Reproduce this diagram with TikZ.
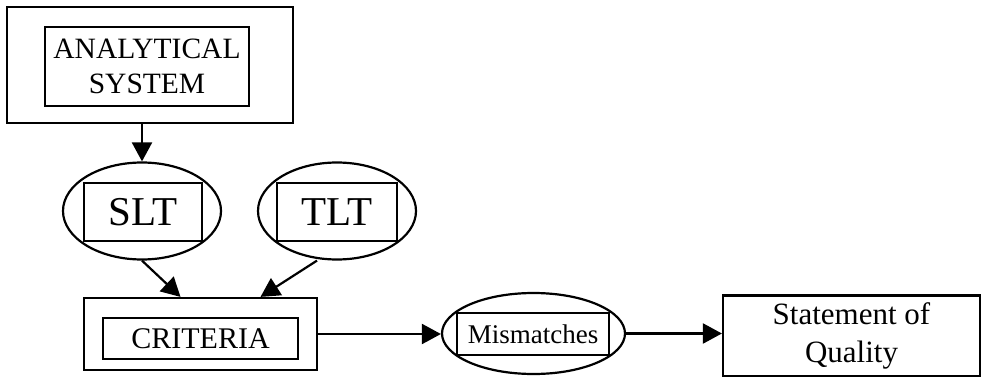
\documentclass[tikz,border=0pt]{standalone}
\usepackage{fontspec}
\setmainfont{Liberation Serif}
\usetikzlibrary{arrows.meta,shapes.geometric}

\begin{document}
\begin{tikzpicture}[x=1pt,y=-1pt,line width=2.2pt,
    box/.style={draw,rectangle,inner sep=0pt},
    oval/.style={draw,ellipse,inner sep=0pt},
    flow/.style={-{Triangle[length=19pt,width=20pt]}}]
\useasboundingbox (0,0) rectangle (984,377); % adjust bounding box
% analytical system
\node[box,minimum width=286,minimum height=116] (sysout) at (150,65) {};
\node[box,minimum width=204,minimum height=79,align=center,
      font=\fontsize{29.5}{35}\selectfont] (sysin) at (147,66.5) {ANALYTICAL\\SYSTEM};
% the two ovals
\node[oval,minimum width=158,minimum height=97] (sltell) at (142,211) {};
\node[box,minimum width=118,minimum height=58,
      font=\fontsize{41}{46}\selectfont] (sltin) at (143,212) {SLT};
\node[oval,minimum width=158,minimum height=97] (tltell) at (337,211) {};
\node[box,minimum width=120,minimum height=58,
      font=\fontsize{41}{46}\selectfont] (tltin) at (337,212) {TLT};
% criteria
\node[box,minimum width=233,minimum height=72] (critout) at (200.5,334) {};
\node[box,minimum width=195,minimum height=41,
      font=\fontsize{30}{35}\selectfont] (critin) at (200.5,338.5) {CRITERIA};
% mismatches
\node[oval,minimum width=183,minimum height=81] (mism) at (533.5,333.5) {};
\node[box,minimum width=152,minimum height=42,
      font=\fontsize{27}{33}\selectfont] (mismin) at (533,334) {Mismatches};
% statement of quality
\node[box,minimum width=257,minimum height=81,align=center,
      font=\fontsize{31}{38}\selectfont] (stmt) at (851.5,336) {Statement of\\Quality};
% connectors
\draw[flow] (sysout.south -| sltell.north) -- (sltell.north);
\draw[flow] (sltell.south) -- ([xshift=-20pt]critout.north);
\draw[flow] ([xshift=-20pt]tltell.south) -- ([xshift=60pt]critout.north);
\draw[flow] (critout.east) -- (critout.east -| mism.west);
\draw[flow] (mism.east) -- (mism.east -| stmt.west);
\end{tikzpicture}
\end{document}
